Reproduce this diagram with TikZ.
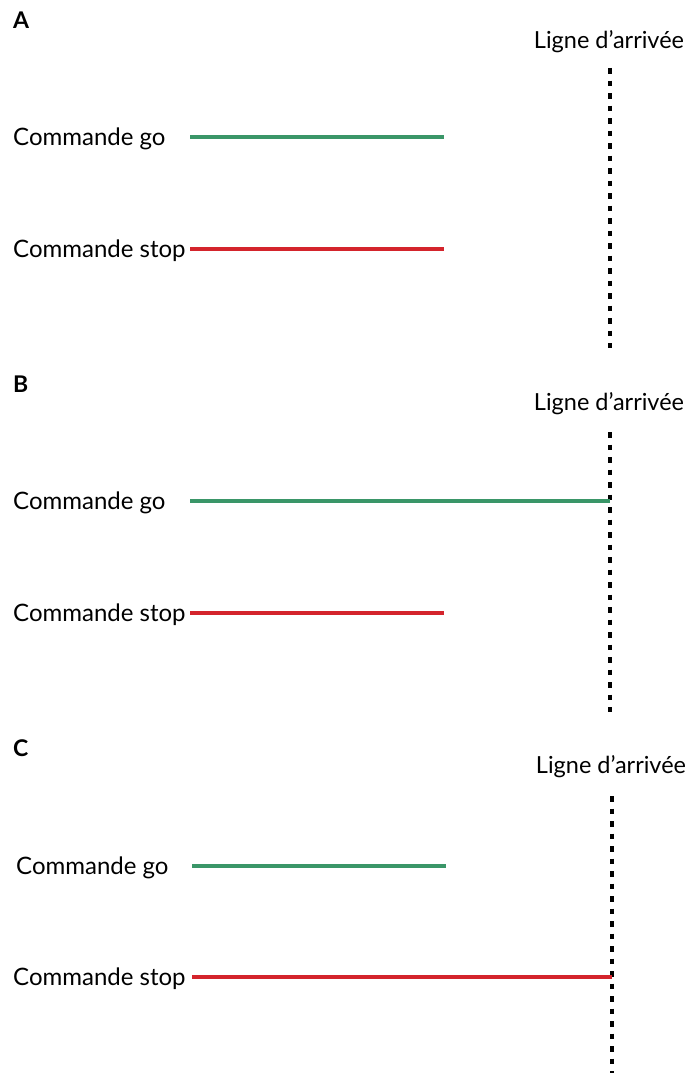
\documentclass[tikz,border=0pt]{standalone}
\usepackage{fontspec}
\setmainfont{Lato}
\usepackage{tikz}
\usetikzlibrary{positioning}
\definecolor{gocolor}{RGB}{58,150,104}
\definecolor{stopcolor}{RGB}{212,36,44}

\tikzset{
    label text/.style={anchor=west, inner sep=0pt, font=\fontsize{24}{28}\selectfont},
    panel text/.style={anchor=north west, inner sep=0pt, font=\fontsize{23}{27}\selectfont\bfseries},
    finish text/.style={inner sep=0pt, font=\fontsize{23.5}{28}\selectfont},
    go line/.style={gocolor, line width=4pt},
    stop line/.style={stopcolor, line width=4pt},
    finish line/.style={line width=3.5pt, dash pattern=on 5.5pt off 7pt}
}

\begin{document}
\begin{tikzpicture}[x=1pt, y=-1pt]
            \useasboundingbox (0,0) rectangle (689,1073);
            % A
            \draw (13,12) node[panel text]                    (pA) {A};
            \draw (609,42) node[finish text]                  (fA) {Ligne d'arrivée};
            \draw (13,139) node[label text]                   (gA) {Commande go};
            \draw (13,251) node[label text]                   (sA) {Commande stop};
            \coordinate (ftA) at (610,68);
            \coordinate (fbA) at (610,348);
            \coordinate (gsA) at (190,137);
            \coordinate (geA) at (444,137);
            \coordinate (ssA) at (190,249);
            \coordinate (seA) at (444,249);
            \draw[finish line] (ftA) -- (fbA);
            \draw[go line] (gsA) -- (geA);
            \draw[stop line] (ssA) -- (seA);
            % B
            \draw (13,376) node[panel text]                   (pB) {B};
            \draw (609,404) node[finish text]                 (fB) {Ligne d'arrivée};
            \draw (13,503) node[label text]                   (gB) {Commande go};
            \draw (13,615) node[label text]                   (sB) {Commande stop};
            \coordinate (ftB) at (610,432);
            \coordinate (fbB) at (610,712);
            \coordinate (gsB) at (190,501);
            \coordinate (geB) at (610,501);
            \coordinate (ssB) at (190,613);
            \coordinate (seB) at (444,613);
            \draw[finish line] (ftB) -- (fbB);
            \draw[go line] (gsB) -- (geB);
            \draw[stop line] (ssB) -- (seB);
            % C
            \draw (13,739) node[panel text]                   (pC) {C};
            \draw (611,767) node[finish text]                 (fC) {Ligne d'arrivée};
            \draw (16,868) node[label text]                   (gC) {Commande go};
            \draw (13,979) node[label text]                   (sC) {Commande stop};
            \coordinate (ftC) at (612,796);
            \coordinate (fbC) at (612,1073);
            \coordinate (gsC) at (192,866);
            \coordinate (geC) at (446,866);
            \coordinate (ssC) at (192,977);
            \coordinate (seC) at (612,977);
            \draw[finish line] (ftC) -- (fbC);
            \draw[go line] (gsC) -- (geC);
            \draw[stop line] (ssC) -- (seC);
\end{tikzpicture}
\end{document}
